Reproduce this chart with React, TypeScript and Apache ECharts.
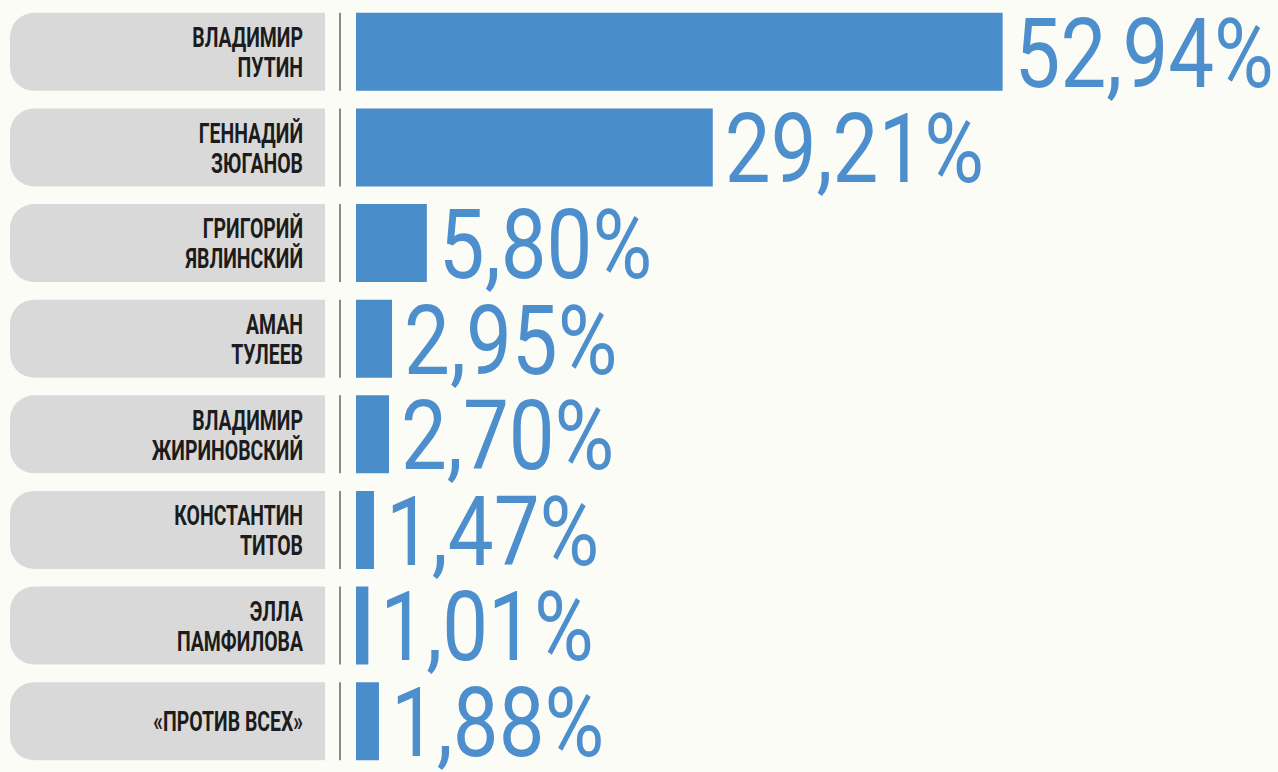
import React, { useEffect, useRef } from "react";
import * as echarts from "echarts";

const candidates = [
  "ВЛАДИМИР\nПУТИН",
  "ГЕННАДИЙ\nЗЮГАНОВ",
  "ГРИГОРИЙ\nЯВЛИНСКИЙ",
  "АМАН\nТУЛЕЕВ",
  "ВЛАДИМИР\nЖИРИНОВСКИЙ",
  "КОНСТАНТИН\nТИТОВ",
  "ЭЛЛА\nПАМФИЛОВА",
  "«ПРОТИВ ВСЕХ»",
];
const votes = [52.94, 29.21, 5.8, 2.95, 2.7, 1.47, 1.01, 1.88];

const BLUE = "#4a8dcb";

export default function App() {
  const ref = useRef<HTMLDivElement>(null);
  useEffect(() => {
    if (!ref.current) return;
    const chart = echarts.init(ref.current, undefined, { renderer: "svg" });
    const renderItem = (params: any, api: any) => {
      const i = api.value(0);
      const v = api.value(1);
      const start = api.coord([0, i]);
      const end = api.coord([v, i]);
      const cy = start[1];
      const h = 78;
      const boxRight = start[0] - 31;
      return {
        type: "group",
        children: [
          {
            type: "rect",
            shape: { x: 10, y: cy - h / 2, width: boxRight - 10, height: h, r: [24, 0, 0, 24] },
            style: { fill: "#d9d9d9" },
          },
          {
            type: "rect",
            shape: { x: start[0] - 17, y: cy - h / 2, width: 2, height: h },
            style: { fill: "#8a8a8a" },
          },
          {
            type: "text",
            x: boxRight - 22,
            y: cy + 1,
            scaleX: 0.72,
            style: {
              text: candidates[params.dataIndex],
              align: "right",
              verticalAlign: "middle",
              lineHeight: 30,
              fill: "#1c1c1c",
              font: "bold 27px Roboto, sans-serif",
            },
          },
          {
            type: "text",
            x: end[0] + 12,
            y: cy + 2,
            scaleX: 0.85,
            style: {
              text: v.toFixed(2).replace(".", ",") + "%",
              align: "left",
              verticalAlign: "middle",
              fill: "#4d8fcc",
              font: "96px Roboto, sans-serif",
            },
          },
        ],
      };
    };
    chart.setOption({
      animation: false,
      backgroundColor: "#fcfcf7",
      grid: { left: 356, right: 67, top: 4, bottom: 3, containLabel: false },
      xAxis: { type: "value", min: 0, max: 70, show: false },
      yAxis: {
        type: "category",
        inverse: true,
        data: candidates,
        show: false,
      },
      series: [
        {
          type: "bar",
          data: votes,
          barWidth: 78,
          itemStyle: { color: BLUE },
        },
        {
          type: "custom",
          renderItem,
          data: votes.map((v, i) => [i, v]),
          encode: { x: 1, y: 0 },
          silent: true,
        },
      ],
    });
    return () => chart.dispose();
  }, []);
  return (
    <div
      ref={ref}
      style={{ position: "fixed", left: 0, top: 0, width: 1278, height: 772 }}
    />
  );
}
